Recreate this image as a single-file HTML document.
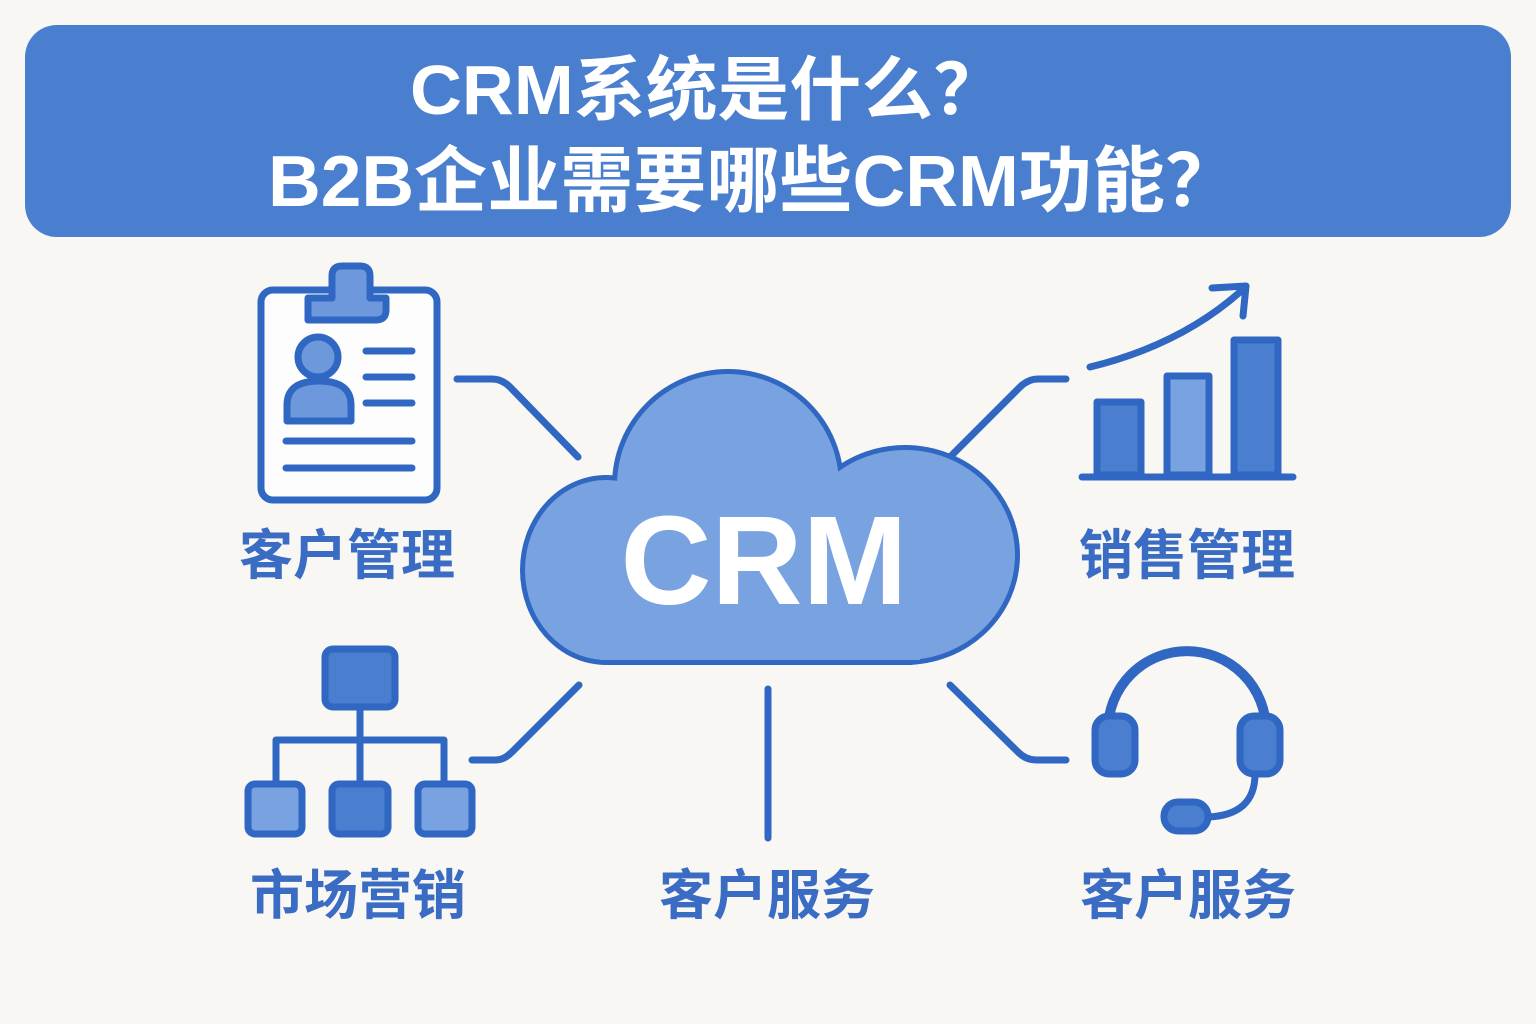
<!DOCTYPE html>
<html><head><meta charset="utf-8"><style>
body{margin:0;width:1536px;height:1024px;background:#f8f7f4;overflow:hidden;font-family:"Liberation Sans","Noto Sans CJK SC",sans-serif}
</style></head><body>
<svg width="1536" height="1024" xmlns="http://www.w3.org/2000/svg" style="position:absolute;left:0;top:0">
<rect x="25" y="25" width="1486" height="212" rx="32" fill="#4a7fcf"/>
<g font-family="Liberation Sans, Noto Sans CJK SC, sans-serif" font-weight="bold" fill="#fff">
<text x="410" y="114" font-size="70" textLength="595" lengthAdjust="spacingAndGlyphs">CRM系统是什么？</text>
<text x="268" y="206" font-size="72" textLength="970" lengthAdjust="spacingAndGlyphs">B2B企业需要哪些CRM功能？</text>
</g>
<g stroke="#2f67c2" stroke-width="7" stroke-linecap="round" stroke-linejoin="round" fill="none">
<rect x="261" y="290" width="176" height="210" rx="12" fill="#fdfdfd"/>
<path d="M308,320 L308,298 L332,298 L332,276 Q332,266 342,266 L360,266 Q370,266 370,276 L370,298 L386,298 L386,310 Q386,320 376,320 Z" fill="#6d98dc"/>
<circle cx="318" cy="357" r="20" fill="#6d98dc"/>
<path d="M287,421 L287,405 Q287,381 319,381 Q351,381 351,405 L351,421 Z" fill="#6d98dc"/>
<path d="M366,351H412M366,377H412M366,403H412M286,441H412M286,468H412"/>
<path d="M457,379H492Q502,379 510,387L578,457"/>
<path d="M950,457L1020,387Q1028,379 1038,379H1066"/>
<path d="M472,760H496Q504,760 512,752L579,685"/>
<path d="M950,685L1018,752Q1026,760 1036,760H1066"/>
<path d="M768,689V838"/>
<rect x="1097" y="402" width="44" height="73" fill="#4a7fcf"/>
<rect x="1167" y="376" width="42" height="99" fill="#79a2e0"/>
<rect x="1234" y="340" width="44" height="135" fill="#4a7fcf"/>
<path d="M1082,477H1293"/>
<path d="M1090,367Q1180,345 1240,292"/>
<path d="M1212,288L1246,286L1243,316"/>
<rect x="325" y="649" width="70" height="58" rx="8" fill="#4a7fcf"/>
<path d="M360,707V740M276,783V740H444V783M360,740V783"/>
<rect x="248" y="784" width="54" height="50" rx="7" fill="#79a2e0"/>
<rect x="332" y="784" width="56" height="50" rx="7" fill="#4a7fcf"/>
<rect x="418" y="784" width="54" height="50" rx="7" fill="#79a2e0"/>
<path d="M1108,730 A79,79 0 0 1 1266,730" stroke-width="10"/>
<rect x="1095" y="716" width="40" height="58" rx="14" fill="#4a7fcf"/>
<rect x="1240" y="716" width="40" height="58" rx="14" fill="#4a7fcf"/>
<path d="M1255,774 Q1255,815 1208,817"/>
<rect x="1164" y="802" width="44" height="29" rx="14" fill="#4a7fcf"/>
</g>
<g fill="#2f67c2">
<ellipse cx="606" cy="570" rx="86" ry="95"/>
<circle cx="728" cy="485" r="116"/>
<ellipse cx="905" cy="555" rx="115" ry="110"/>
<rect x="600" y="540" width="320" height="125" rx="10"/>
</g>
<g fill="#79a2e0">
<ellipse cx="606" cy="570" rx="81" ry="90"/>
<circle cx="728" cy="485" r="111"/>
<ellipse cx="905" cy="555" rx="110" ry="105"/>
<rect x="600" y="540" width="320" height="120"/>
</g>
<text x="764" y="604" font-size="126" font-weight="bold" fill="#fff" text-anchor="middle" font-family="Liberation Sans, sans-serif">CRM</text>
<g font-size="54" font-weight="bold" fill="#3a6cc4" text-anchor="middle" font-family="Liberation Sans, Noto Sans CJK SC, sans-serif">
<text x="347" y="574">客户管理</text>
<text x="1187" y="574">销售管理</text>
<text x="358" y="914">市场营销</text>
<text x="767" y="914">客户服务</text>
<text x="1188" y="914">客户服务</text>
</g>
</svg>
</body></html>
